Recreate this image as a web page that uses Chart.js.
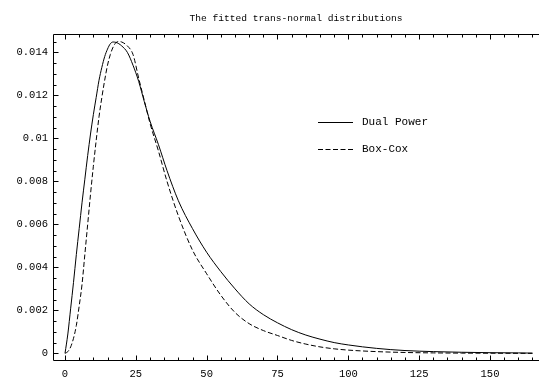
<!DOCTYPE html>
<html>
<head>
<meta charset="utf-8">
<script src="https://cdn.jsdelivr.net/npm/chart.js@4/dist/chart.umd.min.js"></script>
<style>
  html, body { margin: 0; padding: 0; background: #fff; }
  canvas { display: block; }
</style>
</head>
<body>
<canvas id="c" width="539" height="383"></canvas>
<script>
// Sample positions along the horizontal axis
const xValues = [0, 1, 2, 3, 4, 5, 6, 7, 8, 9, 10, 11, 12, 13, 14, 15, 16, 17, 18, 19, 20,
  22, 24, 26, 28, 30, 33, 36, 40, 45, 50, 55, 60, 65, 70, 75, 80, 85, 90, 95, 100,
  110, 120, 130, 140, 150, 160, 165];

// Fitted density, dual power transformation
const dualPower = [0, 0.0009, 0.0021, 0.0033, 0.0046, 0.0058, 0.0070, 0.0081, 0.0092, 0.0102, 0.0111,
  0.0119, 0.0127, 0.0133, 0.0138, 0.01415, 0.0144, 0.01448, 0.01446, 0.0144, 0.0143,
  0.0140, 0.0134, 0.01265, 0.0117, 0.0108, 0.0097, 0.0085, 0.0071, 0.0058, 0.0047,
  0.0038, 0.0030, 0.0023, 0.0018, 0.00142, 0.0011, 0.00085, 0.00066, 0.0005, 0.00039,
  0.00023, 0.00013, 0.00008, 0.00005, 0.00003, 0.00002, 0.00001];

// Fitted density, Box-Cox transformation
const boxCox = [0, 0.00008, 0.0003, 0.0007, 0.0013, 0.0022, 0.0032, 0.0046, 0.0060, 0.0074, 0.0087,
  0.0099, 0.0110, 0.0119, 0.0127, 0.0134, 0.0139, 0.01425, 0.01445, 0.0145, 0.01448,
  0.0143, 0.0139, 0.0128, 0.01175, 0.0107, 0.0094, 0.0080, 0.0064, 0.0048, 0.0037,
  0.0027, 0.0019, 0.00138, 0.00106, 0.00083, 0.0006, 0.00043, 0.0003, 0.00021, 0.00015,
  0.00008, 0.00004, 0.00002, 0.00001, 0.000005, 0, 0];

const xTickLabels = [0, 25, 50, 75, 100, 125, 150];
const yTickLabels = [0, 0.002, 0.004, 0.006, 0.008, 0.01, 0.012, 0.014];
const seriesNames = ['Dual Power', 'Box-Cox'];
const titleText = 'The fitted trans-normal distributions';

const MONO = "'Liberation Mono', 'Courier New', monospace";

// Frame on top, left and bottom with inward ticks (major + minor)
const frameTicks = {
  id: 'frameTicks',
  afterDatasetsDraw(chart) {
    const { ctx, chartArea: a, scales: { x, y } } = chart;
    const al = v => Math.round(v) + 0.5;
    ctx.save();
    ctx.strokeStyle = '#000';
    ctx.lineWidth = 1;
    ctx.beginPath();
    ctx.moveTo(chart.width, al(a.top));
    ctx.lineTo(al(a.left), al(a.top));
    ctx.lineTo(al(a.left), al(a.bottom));
    ctx.lineTo(chart.width, al(a.bottom));
    ctx.stroke();

    ctx.beginPath();
    for (let v = 0; v <= x.max; v += 5) {
      const px = al(x.getPixelForValue(v));
      const len = (v % 25 === 0) ? 5 : 3;
      ctx.moveTo(px, al(a.bottom));
      ctx.lineTo(px, al(a.bottom) - len);
      ctx.moveTo(px, al(a.top));
      ctx.lineTo(px, al(a.top) + len);
    }
    for (let i = 0; i * 0.0005 <= y.max; i++) {
      const v = i * 0.0005;
      const py = al(y.getPixelForValue(v));
      const len = (i % 4 === 0) ? 5 : 3;
      ctx.moveTo(al(a.left), py);
      ctx.lineTo(al(a.left) + len, py);
    }
    ctx.stroke();
    ctx.restore();
  }
};

// Line-sample legend placed inside the plot
const lineLegend = {
  id: 'lineLegend',
  afterDraw(chart) {
    const { ctx, chartArea: a } = chart;
    ctx.save();
    ctx.font = '11px ' + MONO;
    ctx.fillStyle = '#000';
    ctx.textBaseline = 'middle';
    ctx.strokeStyle = '#000';
    ctx.lineWidth = 1;
    const x0 = a.left + 265, x1 = a.left + 300, tx = a.left + 309;
    const rows = [a.top + 88.5, a.top + 115.5];
    chart.data.datasets.forEach((ds, i) => {
      const yy = Math.round(rows[i]) + 0.5;
      ctx.setLineDash(ds.borderDash || []);
      ctx.beginPath();
      ctx.moveTo(x0, yy);
      ctx.lineTo(x1, yy);
      ctx.stroke();
      ctx.setLineDash([]);
      ctx.fillText(ds.label, tx, yy);
    });
    ctx.restore();
  }
};

new Chart(document.getElementById('c'), {
  type: 'line',
  data: {
    datasets: [
      {
        label: seriesNames[0],
        data: xValues.map((v, i) => ({ x: v, y: dualPower[i] })),
        borderColor: '#000',
        borderWidth: 1,
        pointRadius: 0,
        cubicInterpolationMode: 'monotone',
        fill: false
      },
      {
        label: seriesNames[1],
        data: xValues.map((v, i) => ({ x: v, y: boxCox[i] })),
        borderColor: '#000',
        borderWidth: 1,
        borderDash: [5, 2.5],
        pointRadius: 0,
        cubicInterpolationMode: 'monotone',
        fill: false
      }
    ]
  },
  options: {
    responsive: false,
    animation: false,
    devicePixelRatio: 1,
    layout: { padding: 0 },
    plugins: {
      legend: { display: false },
      tooltip: { enabled: false },
      title: {
        display: true,
        text: titleText,
        fullSize: false,
        color: '#000',
        font: { family: MONO, size: 9.6, weight: 'normal', lineHeight: 1.2 },
        padding: { top: 12.2, bottom: 9.9 }
      }
    },
    scales: {
      x: {
        type: 'linear',
        min: -4.24,
        max: 167.3,
        grid: { display: false, drawTicks: false },
        border: { display: false },
        afterBuildTicks: s => { s.ticks = xTickLabels.map(v => ({ value: v })); },
        afterFit: s => { s.height = 23; },
        ticks: {
          color: '#000',
          padding: 8,
          maxRotation: 0,
          autoSkip: false,
          font: { family: MONO, size: 10.5 },
          callback: v => String(v)
        }
      },
      y: {
        type: 'linear',
        min: -0.00031,
        max: 0.01487,
        grid: { display: false, drawTicks: false },
        border: { display: false },
        afterBuildTicks: s => { s.ticks = yTickLabels.map(v => ({ value: v })); },
        afterFit: s => { s.width = 53; },
        ticks: {
          color: '#000',
          padding: 5,
          autoSkip: false,
          font: { family: MONO, size: 10.5 },
          callback: v => (v === 0 ? '0' : String(+v.toFixed(3)))
        }
      }
    }
  },
  plugins: [frameTicks, lineLegend]
});
</script>
</body>
</html>
